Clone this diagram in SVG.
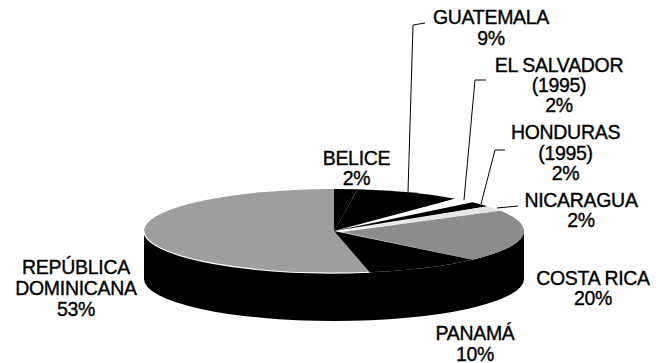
<svg xmlns="http://www.w3.org/2000/svg" width="656" height="363" viewBox="0 0 656 363">
<style>
text{font-family:"Liberation Sans",Arial,sans-serif;font-size:19.5px;fill:#000;stroke:#000;stroke-width:0.35;text-anchor:middle;letter-spacing:-0.3px}
.lead{fill:none;stroke:#000;stroke-width:1}
.blk{fill:#000}
.gr1{fill:#9e9e9e}
.gr2{fill:#8c8c8c}
.wht{fill:#fff}
</style>
<rect width="656" height="363" fill="#fff"/>
<g id="pie-side">
<path class="blk" d="M144,231 A190,42 0 0 0 524,231 L524,279 A190,42 0 0 1 144,279 Z"/>
</g>
<g id="republica-dominicana">
<path class="gr1" d="M334,231 L369.6,272.26 A190,42 0 1 1 334,189 Z"/>
<path d="M144,231 A190,42 0 0 0 369.6,272.26" fill="none" stroke="#fff" stroke-width="1.2"/>
<text x="76" y="274">REPÚBLICA</text>
<text x="76" y="295">DOMINICANA</text>
<text x="76" y="316">53%</text>
</g>
<g id="belice">
<path class="blk" d="M334,231 L334,189 A190,42 0 0 1 357.81,189.33 Z"/>
<line x1="340" y1="222" x2="356" y2="192" stroke="#8a8a8a" stroke-width="0.8" stroke-dasharray="1.5 1.5"/>
<text x="356.5" y="165">BELICE</text>
<text x="356.5" y="185">2%</text>
</g>
<g id="guatemala">
<path class="blk" d="M334,231 L357.81,189.33 A190,42 0 0 1 455.11,198.64 Z"/>
<text x="491" y="24">GUATEMALA</text>
<text x="491" y="45">9%</text>
</g>
<g id="el-salvador">
<path class="wht" d="M342,231 L455.11,198.64 A190,42 0 0 1 472.5,202.25 Z"/>
<text x="559" y="72">EL SALVADOR</text>
<text x="559" y="92">(1995)</text>
<text x="559" y="112">2%</text>
</g>
<g id="honduras">
<path class="blk" d="M334,231 L472.5,202.25 A190,42 0 0 1 487.71,206.31 Z"/>
<text x="565.5" y="139">HONDURAS</text>
<text x="565.5" y="159.5">(1995)</text>
<text x="565.5" y="180">2%</text>
</g>
<g id="nicaragua">
<path fill="#e6e6e6" d="M342,231 L487.71,206.31 A190,42 0 0 1 500.5,210.77 Z"/>
<text x="581" y="207">NICARAGUA</text>
<text x="581" y="227">2%</text>
</g>
<g id="costa-rica">
<path class="gr2" d="M342,232 L500.5,210.77 A190,42 0 0 1 472.5,259.75 Z"/>
<text x="593" y="285">COSTA RICA</text>
<text x="593" y="305">20%</text>
</g>
<g id="panama">
<path class="blk" d="M334,231 L472.5,259.75 A190,42 0 0 1 369.6,272.26 Z"/>
<text x="475" y="339.5">PANAMÁ</text>
<text x="475" y="360.5">10%</text>
</g>
<g id="connectors">
<polyline class="lead" points="408,192 413,25 425,23"/>
<polyline class="lead" points="464,200 475,80 486,80"/>
<polyline class="lead" points="481,204 495,150 505,150"/>
<polyline class="lead" points="497,208 518,206"/>
</g>
</svg>
